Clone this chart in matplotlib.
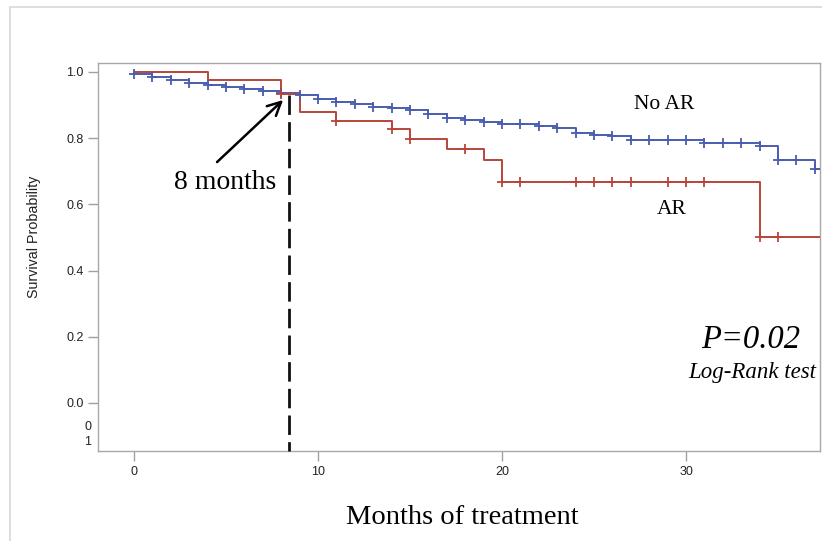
import matplotlib
matplotlib.use("Agg")
import matplotlib.pyplot as plt
import numpy as np
from matplotlib.patches import Rectangle

# ---- data ----
noar_times = [0, 1, 2, 3, 4, 5, 6, 7, 8, 9, 10, 11, 12, 13, 14, 15, 16, 17, 18, 19, 20,
              22, 23, 24, 25, 26, 27, 31, 34, 35, 37]
noar_surv = [0.993, 0.984, 0.976, 0.968, 0.961, 0.956, 0.949, 0.943, 0.935, 0.929, 0.918,
             0.910, 0.902, 0.895, 0.891, 0.884, 0.874, 0.860, 0.854, 0.850, 0.842,
             0.838, 0.830, 0.816, 0.811, 0.807, 0.795, 0.786, 0.775, 0.734, 0.706]
noar_censor = list(range(0, 38))

ar_times = [0, 4, 8, 9, 11, 14, 15, 17, 19, 20, 34]
ar_surv = [1.0, 0.976, 0.932, 0.878, 0.853, 0.827, 0.797, 0.766, 0.733, 0.668, 0.502]
ar_censor = [8, 11, 14, 15, 18, 20, 21, 24, 25, 26, 27, 29, 30, 31, 34, 35]

x_ticks = [0, 10, 20, 30]
y_ticks = [0.0, 0.2, 0.4, 0.6, 0.8, 1.0]
cut_month = 8.42

BLUE = "#4a5db0"
RED = "#b8453a"

W, H = 822, 541
fig = plt.figure(figsize=(W / 100, H / 100), dpi=100)
fig.patches.append(Rectangle((10 / W, -0.1), 1.2, 1 - 7 / H + 0.1, transform=fig.transFigure,
                             fill=False, edgecolor="#d8d8d8", linewidth=1.2))

ax = fig.add_axes([98 / W, 1 - 451 / H, (820 - 98) / W, (451 - 63) / H])
xmin, xmax = -1.96, 37.28
ax.set_xlim(xmin, xmax)
ax.set_ylim(-0.145, 1.027)


def step_value(times, surv, t):
    idx = np.searchsorted(times, t, side="right") - 1
    return np.array(surv)[idx]


for times, surv, cens, col in [(noar_times, noar_surv, noar_censor, BLUE),
                               (ar_times, ar_surv, ar_censor, RED)]:
    tt = list(times) + [xmax]
    ss = list(surv) + [surv[-1]]
    ax.step(tt, ss, where="post", color=col, lw=1.4, zorder=3)
    cy = step_value(times, surv, np.array(cens))
    ax.plot(cens, cy, linestyle="none", marker="+", markersize=7, mew=1.3, color=col, zorder=4)

ax.plot([cut_month, cut_month], [0.93, -0.145], color="#111111", lw=2.0,
        linestyle=(0, (7, 2.6)), zorder=5, clip_on=False)

ax.annotate("", xy=(8.21, 0.921), xytext=(4.40, 0.722),
            arrowprops=dict(arrowstyle="->", color="black", lw=1.8, mutation_scale=24))

serif = "Liberation Serif"
ax.text(4.95, 0.665, "8 months", fontsize=20, family=serif, ha="center", va="center")
ax.text(28.8, 0.903, "No AR", fontsize=15.5, family=serif, ha="center", va="center")
ax.text(29.2, 0.583, "AR", fontsize=15.5, family=serif, ha="center", va="center")
ax.text(33.5, 0.19, "P=0.02", fontsize=23.5, family=serif, style="italic", ha="center", va="center")
ax.text(37.05, 0.092, "Log-Rank test", fontsize=16.5, family=serif, style="italic", ha="right", va="center")

ax.set_xticks(x_ticks)
ax.set_xticklabels([str(v) for v in x_ticks])
ax.set_yticks(y_ticks)
ax.set_yticklabels([f"{v:.1f}" for v in y_ticks])
ax.tick_params(axis="both", colors="#a0a0a0", labelcolor="#222222", labelsize=9, length=7, width=1)
for lab in ax.get_xticklabels() + ax.get_yticklabels():
    lab.set_family("Liberation Sans")
for sp in ax.spines.values():
    sp.set_color("#a8a8a8")
    sp.set_linewidth(1)

fig.text(88 / W, 1 - 427 / H, "0", fontsize=9, family="Liberation Sans", ha="center", va="center",
         color="#222222")
fig.text(88 / W, 1 - 442 / H, "1", fontsize=9, family="Liberation Sans", ha="center", va="center",
         color="#222222")
fig.text(34 / W, 1 - 237 / H, "Survival Probability", rotation=90, fontsize=10.3,
         family="Liberation Sans", ha="center", va="center", color="#222222")
fig.text(462 / W, 1 - 517 / H, "Months of treatment", fontsize=20.5, family=serif,
         ha="center", va="center")

fig.savefig("out.png", dpi=100)
